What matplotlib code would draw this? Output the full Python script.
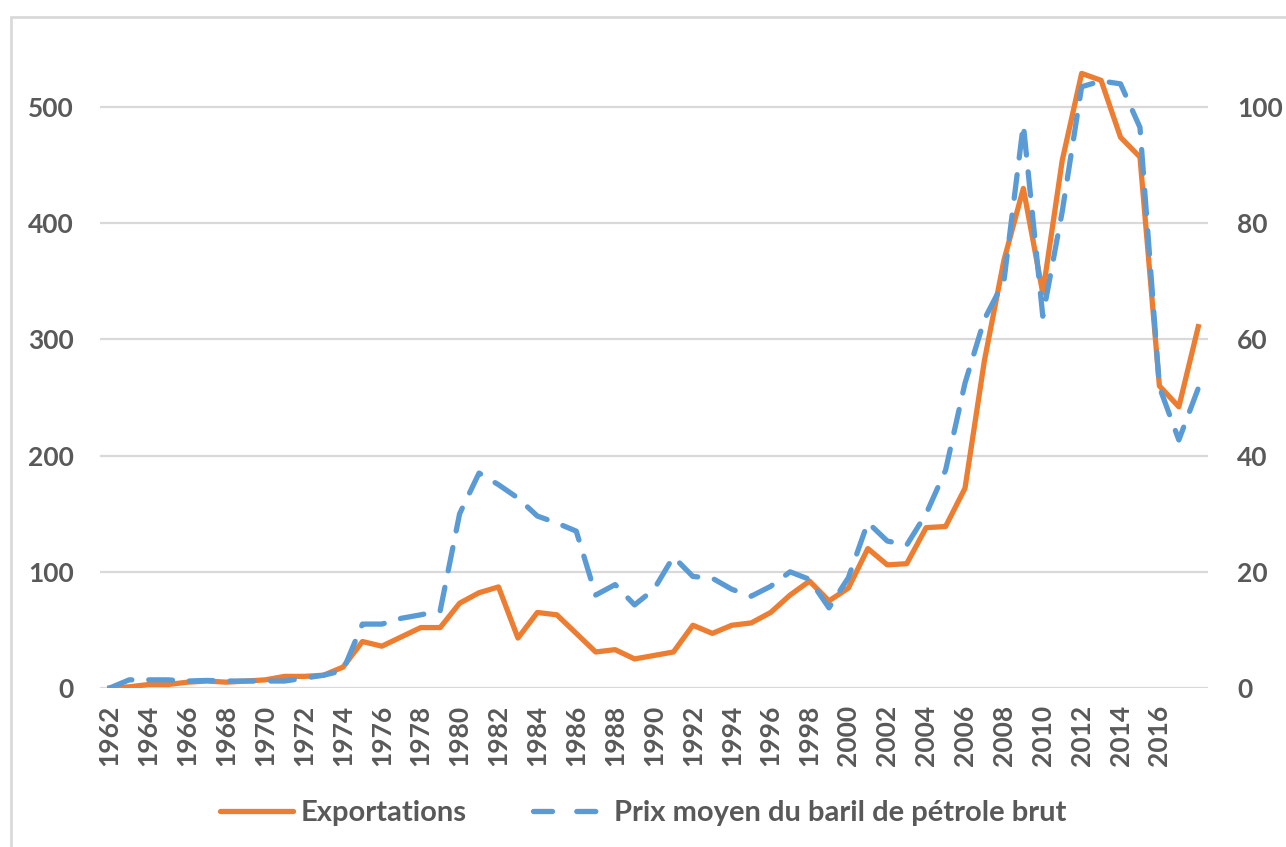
import matplotlib

matplotlib.use("Agg")

import matplotlib.pyplot as plt
from matplotlib.lines import Line2D
from matplotlib.patches import Rectangle

years = list(range(1962, 2019))

exportations = [
    0, 1, 3, 3, 5, 6, 5, 6, 7, 10,
    10, 11, 18, 40, 36, 44, 52, 52, 73, 82,
    87, 43, 65, 63, 47, 31, 33, 25, 28, 31,
    54, 47, 54, 56, 65, 80, 92, 75, 86, 120,
    106, 107, 138, 139, 172, 282, 368, 430, 340, 454,
    529, 523, 474, 457, 260, 242, 311,
]

prix_baril = [
    0, 1.4, 1.4, 1.4, 1.2, 1.3, 1.2, 1.2, 1.2, 1.2,
    1.7, 2.2, 3.0, 11.0, 11.0, 12.0, 12.6, 13.3, 30.0, 37.0,
    35.0, 32.7, 29.6, 28.4, 27.0, 16.0, 17.8, 14.3, 17.0, 22.6,
    19.2, 18.9, 17.0, 15.8, 17.5, 20.0, 18.7, 13.8, 19.0, 28.5,
    25.3, 24.6, 30.0, 37.5, 52.5, 63.5, 70.0, 97.0, 64.0, 82.0,
    103.5, 104.5, 104.0, 96.5, 51.8, 42.7, 51.6,
]

tick_years = list(range(1962, 2017, 2))
left_ticks = [0, 100, 200, 300, 400, 500]
right_ticks = [0, 20, 40, 60, 80, 100]

ORANGE = "#ED7D31"
BLUE = "#5B9BD5"
GRID = "#D9D9D9"
TEXT = "#595959"

plt.rcParams["font.family"] = ["Lato", "DejaVu Sans"]

fig = plt.figure(figsize=(12.86, 8.47), dpi=100)
fig.patches.append(
    Rectangle((11 / 1286, -0.1), 1.2, 1.1 - 17 / 847, transform=fig.transFigure,
              fill=False, edgecolor=GRID, linewidth=2)
)

ax = fig.add_axes([100 / 1286, 159 / 847, 1108 / 1286, 639 / 847])
ax2 = ax.twinx()

ax.plot(years, exportations, color=ORANGE, linewidth=3.8,
        solid_joinstyle="round", zorder=3)
ax2.plot(years, prix_baril, color=BLUE, linewidth=3.8,
         dashes=(4.5, 3.2), dash_capstyle="round", zorder=3)

ax.set_xlim(1961.5, 2018.5)
ax.set_ylim(0, 550)
ax2.set_ylim(0, 110)

ax.set_xticks(tick_years)
ax.set_xticklabels([str(y) for y in tick_years], rotation=90)
ax.set_yticks(left_ticks)
ax2.set_yticks(right_ticks)

for axis in (ax, ax2):
    for spine in axis.spines.values():
        spine.set_visible(False)
    axis.tick_params(length=0, labelsize=19, labelcolor=TEXT)
    for label in axis.get_xticklabels() + axis.get_yticklabels():
        label.set_fontweight("bold")

ax.tick_params(axis="y", pad=19)
ax2.tick_params(axis="y", pad=21)
ax.tick_params(axis="x", pad=12)

ax.yaxis.grid(True, color=GRID, linewidth=1.6)
ax.set_axisbelow(True)

handles = [
    Line2D([], [], color=ORANGE, linewidth=3.8, solid_capstyle="round"),
    Line2D([], [], color=BLUE, linewidth=3.8, dashes=(3.6, 4.6),
           dash_capstyle="round"),
]
fig.legend(
    handles,
    ["Exportations", "Prix moyen du baril de pétrole brut"],
    loc="center",
    bbox_to_anchor=(0.5, 34 / 847),
    ncol=2,
    frameon=False,
    handlelength=2.5,
    handletextpad=0.25,
    columnspacing=2.3,
    prop={"size": 21, "weight": "bold"},
    labelcolor=TEXT,
)

fig.savefig("out.png", dpi=100)
plt.close(fig)
